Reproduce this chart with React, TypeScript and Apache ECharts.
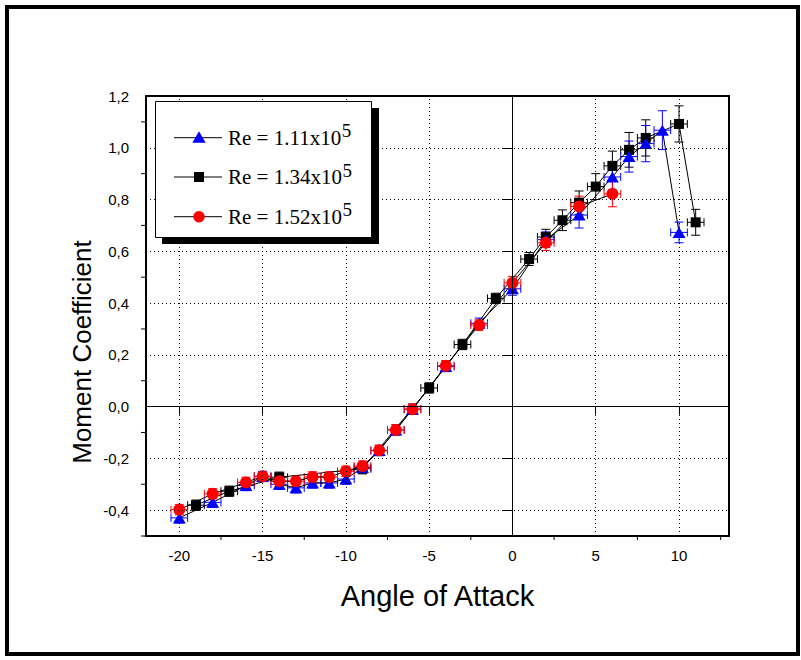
import React, { useEffect, useRef } from 'react';
import * as echarts from 'echarts';

// ---- data ----
const SERIES_NAMES = ['Re = 1.11x10', 'Re = 1.34x10', 'Re = 1.52x10'];
const NAME_EXPONENT = '5';

const BLUE_X = [-20, -18, -16, -15, -14, -13, -12, -11, -10, -9, -8, -7, -6, -4, -2, 0, 2, 4, 6, 7, 8, 9, 10];
const BLUE_Y = [-0.43, -0.37, -0.305, -0.27, -0.3, -0.314, -0.295, -0.295, -0.28, -0.235, -0.17, -0.09, -0.01, 0.155, 0.322, 0.455, 0.645, 0.74, 0.887, 0.966, 1.016, 1.068, 0.673];
const BLUE_ERR = [0.02, 0.02, 0.02, 0.02, 0.02, 0.02, 0.02, 0.02, 0.02, 0.02, 0.02, 0.02, 0.02, 0.02, 0.02, 0.025, 0.03, 0.05, 0.05, 0.06, 0.07, 0.075, 0.04];

const BLACK_X = [-19, -17, -14, -9, -5, -3, -1, 1, 2, 3, 4, 5, 6, 7, 8, 10, 11];
const BLACK_Y = [-0.381, -0.327, -0.273, -0.24, 0.072, 0.24, 0.418, 0.57, 0.655, 0.72, 0.788, 0.85, 0.93, 0.992, 1.038, 1.092, 0.712];
const BLACK_ERR = [0.02, 0.02, 0.02, 0.02, 0.02, 0.02, 0.02, 0.025, 0.03, 0.04, 0.045, 0.05, 0.057, 0.067, 0.07, 0.07, 0.05];

const RED_X = [-20, -18, -16, -15, -14, -13, -12, -11, -10, -9, -8, -7, -6, -4, -2, 0, 2, 4, 6];
const RED_Y = [-0.398, -0.337, -0.293, -0.269, -0.288, -0.288, -0.272, -0.272, -0.25, -0.23, -0.169, -0.09, -0.01, 0.158, 0.315, 0.478, 0.633, 0.773, 0.822];
const RED_ERR = [0.02, 0.02, 0.02, 0.015, 0.02, 0.02, 0.02, 0.02, 0.02, 0.02, 0.02, 0.02, 0.02, 0.02, 0.02, 0.025, 0.03, 0.04, 0.05];

const X_ERR = 0.5;

const X_MIN = -22;
const X_MAX = 13;
const Y_MIN = -0.5;
const Y_MAX = 1.2;
const X_MAJOR = [-20, -15, -10, -5, 0, 5, 10];
const X_MINOR = [-17.5, -12.5, -7.5, -2.5, 2.5, 7.5, 12.5];
const Y_MAJOR = [-0.4, -0.2, 0, 0.2, 0.4, 0.6, 0.8, 1.0, 1.2];
const Y_MINOR = [-0.5, -0.3, -0.1, 0.1, 0.3, 0.5, 0.7, 0.9, 1.1];
const X_GRID = [-20, -15, -10, -5, 5, 10];
const Y_GRID = [-0.4, -0.2, 0.2, 0.4, 0.6, 0.8, 1.0];

const X_TITLE = 'Angle of Attack';
const Y_TITLE = 'Moment Coefficient';

const SANS = '"Liberation Sans", Arial, sans-serif';
const SERIF = '"Liberation Serif", "Times New Roman", serif';

const BLUE = '#0000ff';
const RED = '#ff0000';
const BLACK = '#000000';

function zip(xs: number[], ys: number[], es?: number[]) {
  return xs.map((x, i) => (es ? [x, ys[i], es[i]] : [x, ys[i]]));
}

function errRender(color: string) {
  return (params: any, api: any) => {
    const x = api.value(0);
    const y = api.value(1);
    const e = api.value(2);
    const c = api.coord([x, y]);
    const t = api.coord([x, y + e]);
    const b = api.coord([x, y - e]);
    const l = api.coord([x - X_ERR, y]);
    const r = api.coord([x + X_ERR, y]);
    const cw = 4.5;
    const ch = 4;
    const st = { stroke: color, lineWidth: 1 };
    const ln = (x1: number, y1: number, x2: number, y2: number) => ({
      type: 'line',
      shape: { x1, y1, x2, y2 },
      style: st,
    });
    return {
      type: 'group',
      children: [
        ln(c[0], t[1], c[0], b[1]),
        ln(c[0] - cw, t[1], c[0] + cw, t[1]),
        ln(c[0] - cw, b[1], c[0] + cw, b[1]),
        ln(l[0], c[1], r[0], c[1]),
        ln(l[0], c[1] - ch, l[0], c[1] + ch),
        ln(r[0], c[1] - ch, r[0], c[1] + ch),
      ],
    };
  };
}

export default function App() {
  const ref = useRef<HTMLDivElement>(null);

  useEffect(() => {
    if (!ref.current) return;
    const chart = echarts.init(ref.current, null, { renderer: 'svg' });

    const ctx = document.createElement('canvas').getContext('2d')!;
    const legendFont = 21;
    ctx.font = `${legendFont}px "Liberation Serif"`;

    const rowsY = [137.7, 177, 216.7];
    const legendTextX = 228;
    const legendEls: any[] = [];
    legendEls.push({
      type: 'rect',
      shape: { x: 162, y: 108, width: 217, height: 136 },
      style: { fill: '#000' },
      z: 100,
    });
    legendEls.push({
      type: 'rect',
      shape: { x: 155.5, y: 101.5, width: 216, height: 136 },
      style: { fill: '#fff', stroke: '#000', lineWidth: 1 },
      z: 101,
    });
    const colors = [BLUE, BLACK, RED];
    SERIES_NAMES.forEach((name, i) => {
      const cy = rowsY[i];
      legendEls.push({
        type: 'line',
        shape: { x1: 174, y1: cy, x2: 222, y2: cy },
        style: { stroke: '#000', lineWidth: 1 },
        z: 102,
      });
      if (i === 0) {
        legendEls.push({
          type: 'polygon',
          shape: { points: [[199, cy - 6.5], [192.3, cy + 5], [205.7, cy + 5]] },
          style: { fill: colors[i] },
          z: 103,
        });
      } else if (i === 1) {
        legendEls.push({
          type: 'rect',
          shape: { x: 194, y: cy - 5, width: 10, height: 10 },
          style: { fill: colors[i] },
          z: 103,
        });
      } else {
        legendEls.push({
          type: 'circle',
          shape: { cx: 199, cy, r: 5.7 },
          style: { fill: colors[i] },
          z: 103,
        });
      }
      const w = ctx.measureText(name).width;
      legendEls.push({
        type: 'text',
        x: legendTextX,
        y: cy,
        style: {
          text: name,
          fontFamily: SERIF,
          fontSize: legendFont,
          fill: '#000',
          verticalAlign: 'middle',
          align: 'left',
        },
        z: 103,
      });
      legendEls.push({
        type: 'text',
        x: legendTextX + w + 0.5,
        y: cy - 7,
        style: {
          text: NAME_EXPONENT,
          fontFamily: SERIF,
          fontSize: 19,
          fill: '#000',
          verticalAlign: 'middle',
          align: 'left',
        },
        z: 103,
      });
    });

    const gridLineStyle = { color: '#000', width: 1, type: [1, 3] as any };
    const zeroLineStyle = { color: '#000', width: 1, type: 'solid' as any };

    const option: any = {
      animation: false,
      backgroundColor: '#fff',
      grid: {
        left: 146,
        top: 96,
        right: 72,
        bottom: 124,
        show: true,
        borderColor: '#000',
        borderWidth: 2,
        backgroundColor: 'transparent',
        outerBoundsMode: 'none',
      },
      xAxis: [
        {
          type: 'value',
          position: 'bottom',
          min: X_MIN,
          max: X_MAX,
          axisLine: { show: false },
          axisTick: { show: true, customValues: X_MAJOR, length: 8, lineStyle: { color: '#000', width: 1 } },
          axisLabel: {
            customValues: X_MAJOR,
            color: '#000',
            fontSize: 15,
            fontFamily: SANS,
            margin: 12,
            formatter: (v: number) => String(v),
          },
          splitLine: { show: false },
          name: X_TITLE,
          nameLocation: 'middle',
          nameGap: 45,
          nameTextStyle: { fontSize: 29, fontFamily: SANS, color: '#000' },
        },
        {
          type: 'value',
          position: 'top',
          min: X_MIN,
          max: X_MAX,
          axisLine: { show: false },
          axisTick: { show: true, inside: true, customValues: X_MAJOR, length: 4, lineStyle: { color: '#000', width: 1 } },
          axisLabel: { show: false },
          splitLine: { show: false },
        },
      ],
      yAxis: [
        {
          type: 'value',
          position: 'left',
          min: Y_MIN,
          max: Y_MAX,
          axisLine: { show: false },
          axisTick: { show: true, customValues: Y_MAJOR, length: 10, lineStyle: { color: '#000', width: 1 } },
          axisLabel: {
            customValues: Y_MAJOR,
            color: '#000',
            fontSize: 15,
            fontFamily: SANS,
            margin: 17,
            formatter: (v: number) => v.toFixed(1).replace('.', ','),
          },
          splitLine: { show: false },
        },
        {
          type: 'value',
          position: 'right',
          min: Y_MIN,
          max: Y_MAX,
          axisLine: { show: false },
          axisTick: { show: true, inside: true, customValues: Y_MAJOR, length: 4, lineStyle: { color: '#000', width: 1 } },
          axisLabel: { show: false },
          splitLine: { show: false },
        },
      ],
      graphic: [
        {
          type: 'rect',
          shape: { x: 7, y: 7, width: 791, height: 647 },
          style: { fill: 'none', stroke: '#000', lineWidth: 4 },
          z: 100,
        },
        {
          type: 'text',
          x: 82,
          y: 352,
          rotation: Math.PI / 2,
          style: {
            text: Y_TITLE,
            fontFamily: SANS,
            fontSize: 26,
            fill: '#000',
            align: 'center',
            verticalAlign: 'middle',
          },
          z: 100,
        },
        ...legendEls,
      ],
      series: [
        {
          type: 'custom',
          name: 'xMinorTicks',
          xAxisIndex: 0,
          yAxisIndex: 0,
          data: X_MINOR.map((v) => [v, Y_MIN]),
          encode: { x: 0, y: 1 },
          silent: true,
          renderItem: (params: any, api: any) => {
            const p = api.coord([api.value(0), api.value(1)]);
            return {
              type: 'line',
              shape: { x1: p[0], y1: p[1], x2: p[0], y2: p[1] + 4 },
              style: { stroke: '#000', lineWidth: 1 },
            };
          },
          markLine: {
            silent: true,
            symbol: 'none',
            label: { show: false },
            animation: false,
            data: [
              ...X_GRID.map((v) => ({ xAxis: v, lineStyle: gridLineStyle })),
              ...Y_GRID.map((v) => ({ yAxis: v, lineStyle: gridLineStyle })),
              { xAxis: 0, lineStyle: zeroLineStyle },
              { yAxis: 0, lineStyle: zeroLineStyle },
            ],
          },
        },
        {
          type: 'custom',
          name: 'yMinorTicks',
          data: Y_MINOR.map((v) => [X_MIN, v]),
          encode: { x: 0, y: 1 },
          silent: true,
          renderItem: (params: any, api: any) => {
            const p = api.coord([api.value(0), api.value(1)]);
            return {
              type: 'line',
              shape: { x1: p[0], y1: p[1], x2: p[0] - 5, y2: p[1] },
              style: { stroke: '#000', lineWidth: 1 },
            };
          },
        },
        {
          type: 'custom',
          name: SERIES_NAMES[1] + NAME_EXPONENT + ' error',
          data: zip(BLACK_X, BLACK_Y, BLACK_ERR),
          encode: { x: 0, y: 1 },
          renderItem: errRender(BLACK),
        },
        {
          type: 'line',
          name: SERIES_NAMES[1] + NAME_EXPONENT,
          data: zip(BLACK_X, BLACK_Y),
          symbol: 'rect',
          symbolSize: 10,
          itemStyle: { color: BLACK },
          lineStyle: { color: '#000', width: 1 },
        },
        {
          type: 'custom',
          name: SERIES_NAMES[0] + NAME_EXPONENT + ' error',
          data: zip(BLUE_X, BLUE_Y, BLUE_ERR),
          encode: { x: 0, y: 1 },
          renderItem: errRender(BLUE),
        },
        {
          type: 'line',
          name: SERIES_NAMES[0] + NAME_EXPONENT,
          data: zip(BLUE_X, BLUE_Y),
          symbol: 'triangle',
          symbolSize: [13, 11],
          itemStyle: { color: BLUE },
          lineStyle: { color: '#000', width: 1 },
        },
        {
          type: 'custom',
          name: SERIES_NAMES[2] + NAME_EXPONENT + ' error',
          data: zip(RED_X, RED_Y, RED_ERR),
          encode: { x: 0, y: 1 },
          renderItem: errRender(RED),
        },
        {
          type: 'line',
          name: SERIES_NAMES[2] + NAME_EXPONENT,
          data: zip(RED_X, RED_Y),
          symbol: 'circle',
          symbolSize: 12,
          itemStyle: { color: RED },
          lineStyle: { color: '#000', width: 1 },
        },
      ],
    };

    chart.setOption(option);
    return () => chart.dispose();
  }, []);

  return (
    <div
      ref={ref}
      style={{ position: 'absolute', left: 0, top: 0, width: 801, height: 660, background: '#fff' }}
    />
  );
}
